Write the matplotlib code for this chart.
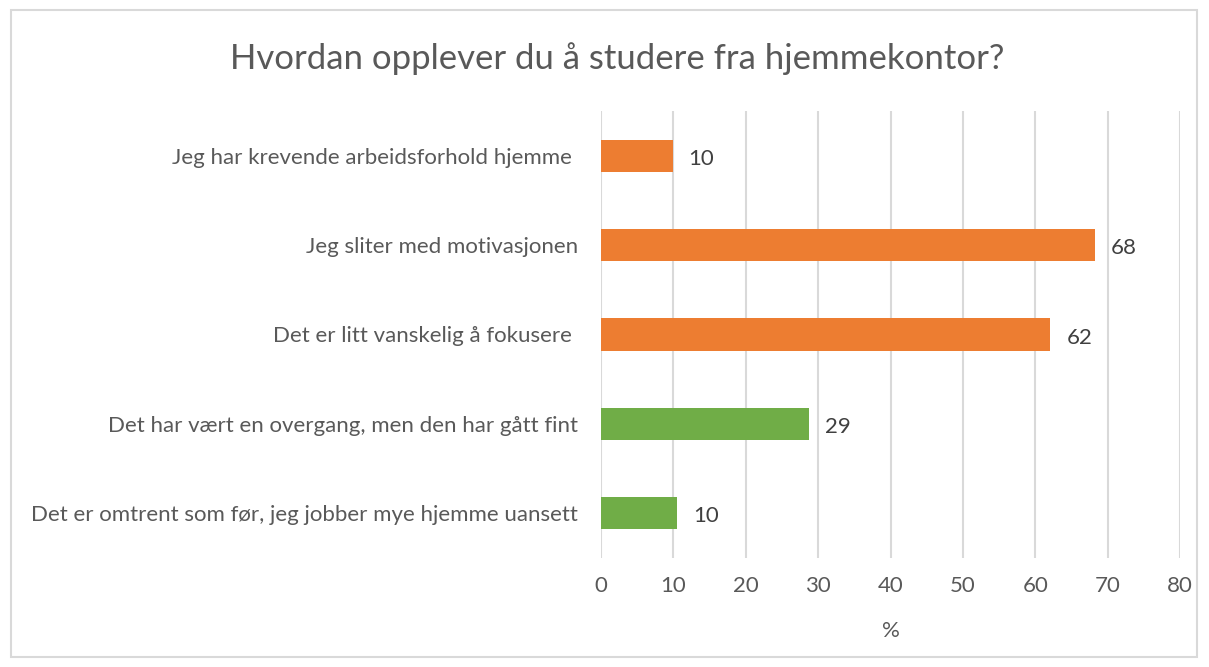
import matplotlib
matplotlib.use("Agg")
import matplotlib.pyplot as plt
from matplotlib.patches import Rectangle

# data, top to bottom as shown
categories = [
    "Jeg har krevende arbeidsforhold hjemme ",
    "Jeg sliter med motivasjonen",
    "Det er litt vanskelig å fokusere ",
    "Det har vært en overgang, men den har gått fint",
    "Det er omtrent som før, jeg jobber mye hjemme uansett",
]
values = [9.9, 68.2, 62.1, 28.7, 10.5]
labels = ["10", "68", "62", "29", "10"]
colors = ["#ED7D31", "#ED7D31", "#ED7D31", "#70AD47", "#70AD47"]
xticks = [0, 10, 20, 30, 40, 50, 60, 70, 80]

plt.rcParams['font.family'] = ['Lato', 'DejaVu Sans']

fig = plt.figure(figsize=(12.09, 6.67), dpi=100)
ax = fig.add_axes([601 / 1209, 1 - 558 / 667, (1180 - 601) / 1209, (558 - 111) / 667])

y = list(range(len(categories)))
ax.barh(y, values, height=0.36, color=colors, zorder=3)
for yi, v, lab in zip(y, values, labels):
    ax.annotate(lab, (v, yi), xytext=(16, -3), textcoords="offset pixels",
                va="center", ha="left", fontsize=16, color="#404040")

ax.set_xlim(0, 80)
ax.set_ylim(4.5, -0.5)
ax.set_xticks(xticks)
ax.set_yticks(y)
ax.set_yticklabels(categories, fontsize=16, color="#595959")
ax.tick_params(axis="y", length=0, pad=16.5)
ax.tick_params(axis="x", length=0, pad=13, labelsize=16, labelcolor="#595959")
ax.grid(axis="x", color="#D9D9D9", linewidth=1.5, zorder=0)
for s in ax.spines.values():
    s.set_visible(False)
ax.set_xlabel("%", fontsize=16, color="#595959", labelpad=18)

fig.text(617 / 1209, 1 - 59 / 667, "Hvordan opplever du å studere fra hjemmekontor?",
         ha="center", va="center", fontsize=25, color="#595959")

fig.patches.append(Rectangle((11 / 1209, 10 / 667), 1186 / 1209, 647 / 667,
                             transform=fig.transFigure, fill=False,
                             edgecolor="#D9D9D9", linewidth=1.5))

fig.savefig("out.png", dpi=100)
